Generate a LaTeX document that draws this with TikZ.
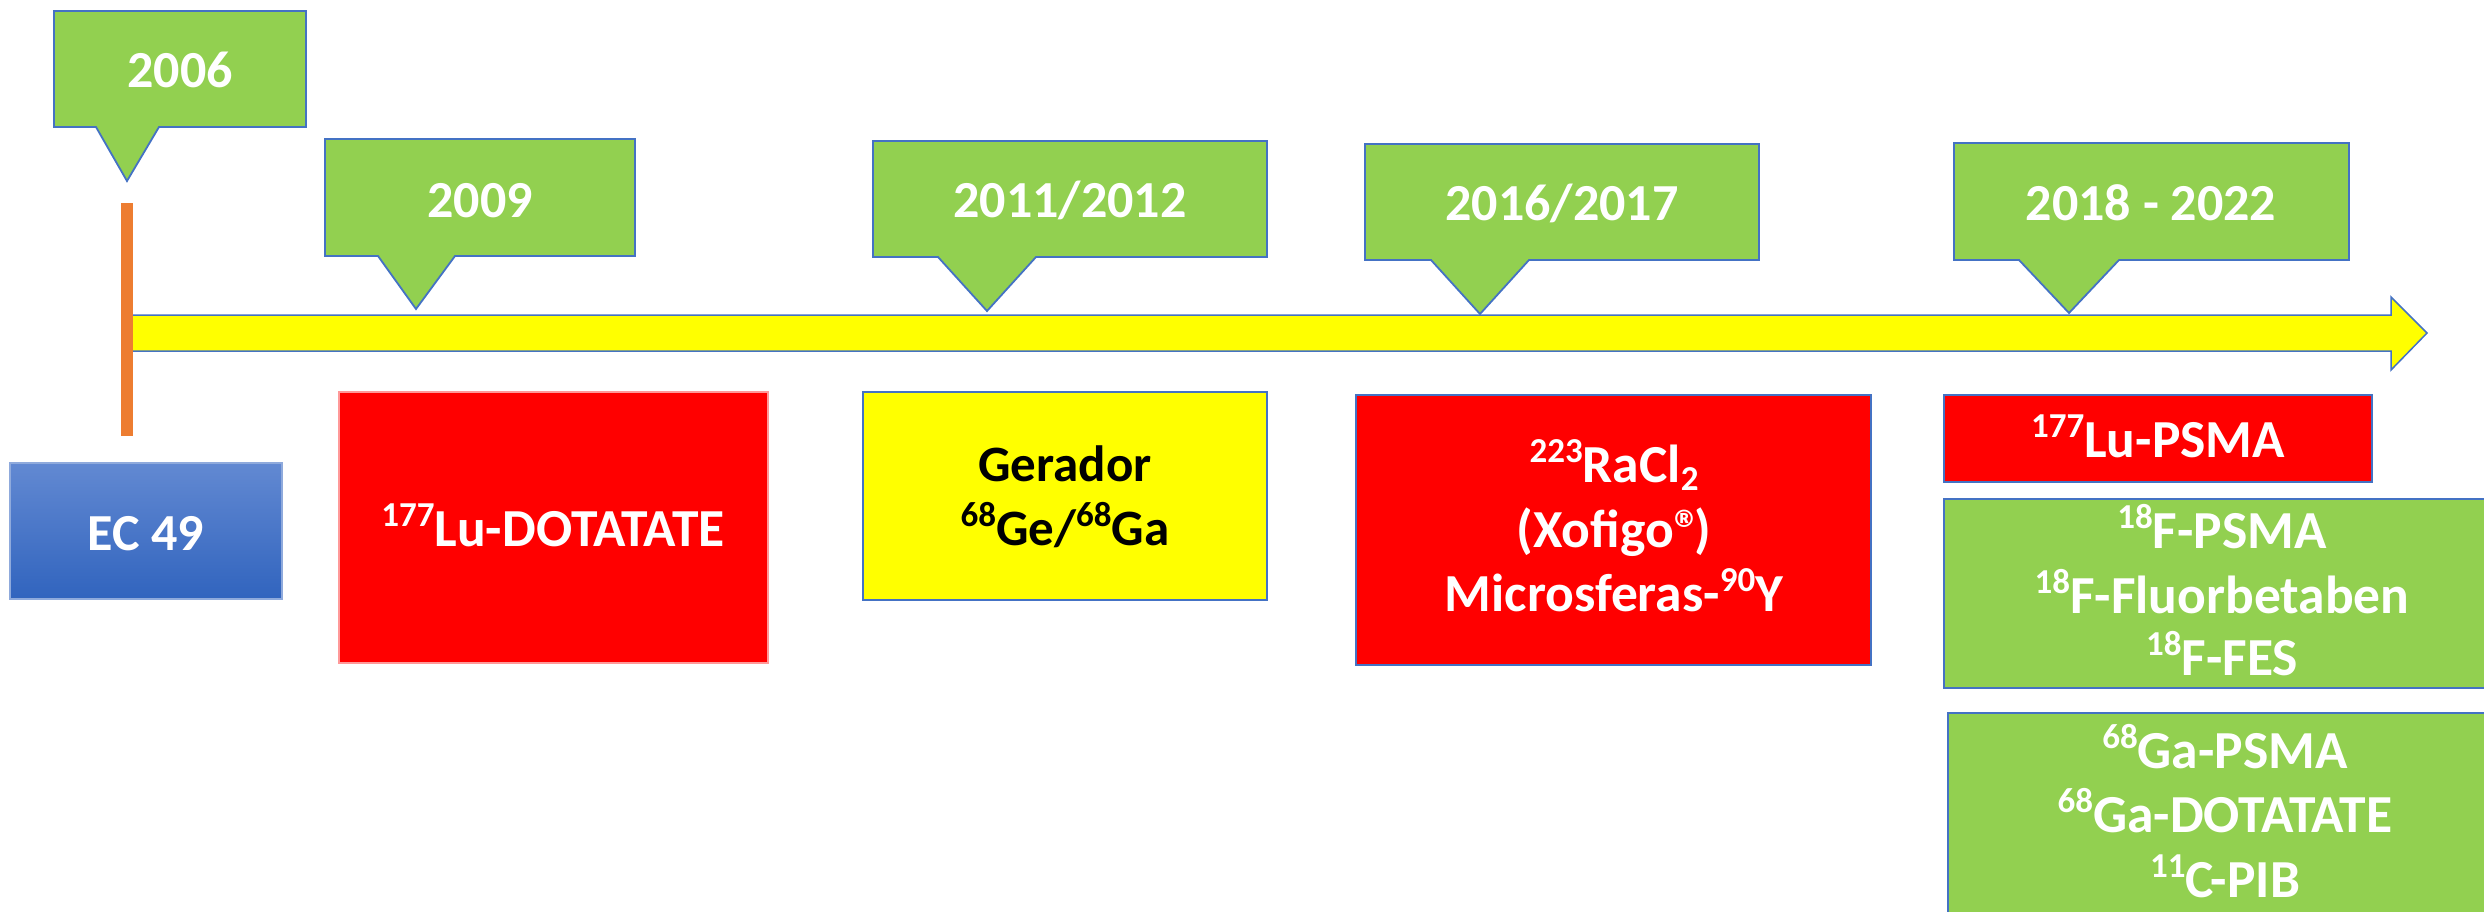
\documentclass[tikz,border=0pt]{standalone}
\usepackage{fontspec}
\setmainfont{Carlito}
\definecolor{cgreen}{HTML}{92D050}
\definecolor{cyellow}{HTML}{FFFF00}
\definecolor{cred}{HTML}{FF0000}
\definecolor{corange}{HTML}{ED7D31}
\definecolor{cline}{HTML}{4472C4}
\definecolor{ctopblue}{HTML}{6289D2}
\definecolor{cbotblue}{HTML}{3164BE}
\newcommand\isot[1]{\raisebox{0.36em}{\fontsize{35}{35}\selectfont #1}}
\newcommand\isub[1]{\raisebox{-0.16em}{\fontsize{35}{35}\selectfont #1}}
\begin{document}
\begin{tikzpicture}[x=1pt,y=-1pt,
  every node/.style={inner sep=0pt, outer sep=0pt},
  txt/.style={anchor=base, text=white, font=\fontsize{53.5}{63}\selectfont\bfseries},
  txtb/.style={txt, text=black, font=\fontsize{51}{63}\selectfont\bfseries},
  yr/.style={anchor=base, text=white, font=\fontsize{52}{63}\selectfont\bfseries},
  callout/.style={fill=cgreen, draw=cline, line width=1.8pt, line join=miter},
  box/.style={draw=cline, line width=1.5pt, rectangle},
]
\useasboundingbox (0,0) rectangle (2484,911);
\clip (0,0) rectangle (2484,911);

% timeline arrow
\draw[fill=cyellow, draw=cline, line width=1.5pt]
  (127,315) -- (2391,315) -- (2391,297) -- (2427,333) -- (2391,370) -- (2391,351) -- (127,351) -- cycle;
% orange marker
\draw[corange, line width=12pt] (127,203) -- (127,436);

% callouts
\draw[callout] (54,11) -- (306,11) -- (306,127) -- (159,127) -- (127,181) -- (96,127) -- (54,127) -- cycle;
\draw[callout] (325,139) -- (635,139) -- (635,256) -- (455,256) -- (416,309) -- (378,256) -- (325,256) -- cycle;
\draw[callout] (873,141) -- (1267,141) -- (1267,257) -- (1036,257) -- (987,311) -- (938,257) -- (873,257) -- cycle;
\draw[callout] (1365,144) -- (1759,144) -- (1759,260) -- (1529,260) -- (1480,314) -- (1431,260) -- (1365,260) -- cycle;
\draw[callout] (1954,143) -- (2349,143) -- (2349,260) -- (2119,260) -- (2069,313) -- (2019,260) -- (1954,260) -- cycle;

\node[yr] (y06) at (180,87) {2006};
\node[yr] (y09) at (480,217) {2009};
\node[yr] (y11) at (1070,217) {2011/2012};
\node[yr] (y16) at (1562,220) {2016/2017};
\node[yr] (y18) at (2151,220) {2018 - 2022};

% boxes
\node[box, draw=cline!60, top color=ctopblue, bottom color=cbotblue, minimum width=272, minimum height=136] (bec) at (146,531) {};
\node[box, draw=red!40, fill=cred, minimum width=429, minimum height=271] (blu) at (553.5,527.5) {};
\node[box, fill=cyellow, minimum width=404, minimum height=208] (bge) at (1065,496) {};
\node[box, fill=cred, minimum width=515, minimum height=270] (bra) at (1613.5,530) {};
\node[box, fill=cred, minimum width=428, minimum height=87] (bps) at (2158,438.5) {};
\node[box, fill=cgreen, minimum width=556, minimum height=189] (bf) at (2222,593.5) {};
\node[box, fill=cgreen, minimum width=556, minimum height=240] (bga) at (2226,833) {};

% texts
\node[txt, font=\fontsize{52}{63}\selectfont\bfseries] (tec) at (146,550) {EC 49};
\node[txt] (tlu) at (553,546) {\isot{177}Lu-DOTATATE};
\node[txtb] (tge1) at (1065,481) {Gerador};
\node[txtb] (tge2) at (1065,545) {\isot{68}Ge/\isot{68}Ga};
\node[txt] (tra1) at (1614,482) {\isot{223}RaCl\isub{2}};
\node[txt] (tra2) at (1614,547) {(Xofigo®\kern-0.12em)};
\node[txt] (tra3) at (1614,611) {Microsferas-\isot{90}Y};
\node[txt] (tps) at (2158,457) {\isot{177}Lu-PSMA};
\node[txt] (tf1) at (2222,548) {\isot{18}F-PSMA};
\node[txt] (tf2) at (2222,613) {\isot{18}F-Fluorbetaben};
\node[txt] (tf3) at (2222,675) {\isot{18}F-FES};
\node[txt] (tg1) at (2225,768) {\isot{68}Ga-PSMA};
\node[txt] (tg2) at (2225,832) {\isot{68}Ga-DOTATATE};
\node[txt] (tg3) at (2225,897) {\isot{11}C-PIB};
\end{tikzpicture}
\end{document}
